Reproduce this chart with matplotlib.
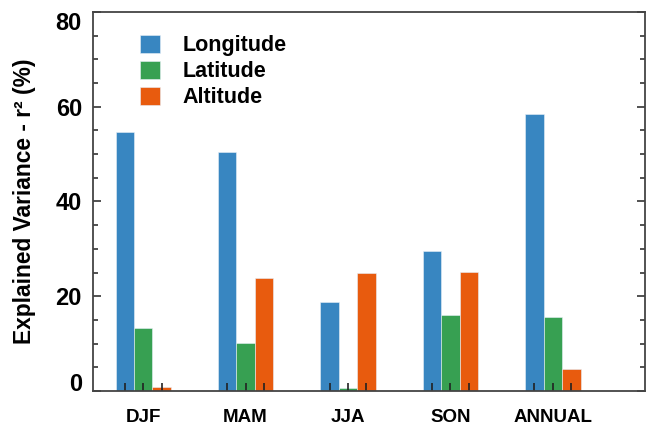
import matplotlib
matplotlib.use("Agg")
import matplotlib.pyplot as plt
import numpy as np
from matplotlib.ticker import MultipleLocator

plt.rcParams['font.family'] = ['Liberation Sans', 'DejaVu Sans']
plt.rcParams['font.weight'] = 'bold'

categories = ["DJF", "MAM", "JJA", "SON", "ANNUAL"]
series_names = ["Longitude", "Latitude", "Altitude"]
longitude = [54.6, 50.4, 18.8, 29.5, 58.5]
latitude = [13.2, 10.2, 0.7, 16.1, 15.6]
altitude = [0.8, 23.9, 24.8, 25.2, 4.7]
yticks = [0, 20, 40, 60, 80]
colors = ["#3886C1", "#37A052", "#E85B0E"]

fig = plt.figure(figsize=(6.46, 4.25), dpi=100)
ax = fig.add_axes([0.144, 0.08, 0.8545, 0.892])

x = np.arange(len(categories))
w = 0.18
bar_centers = []
for i, (vals, name, c) in enumerate(zip([longitude, latitude, altitude], series_names, colors)):
    pos = x + (i - 1) * w
    bar_centers.extend(pos)
    ax.bar(pos, vals, width=w, color=c, edgecolor='#E8F0F8', linewidth=0.4, label=name)

ax.set_xlim(-0.49, 4.9)
ax.set_ylim(0, 80)

ax.set_yticks(yticks)
ax.yaxis.set_minor_locator(MultipleLocator(5))
ax.tick_params(axis='y', which='both', direction='in', left=True, right=True, width=1.2, color='#333333')
ax.tick_params(axis='y', which='major', length=6, labelsize=17, pad=8)
ax.tick_params(axis='y', which='minor', length=3.5)

ax.xaxis.remove_overlapping_locs = False
ax.set_xticks(x)
ax.set_xticklabels(categories)
ax.set_xticks(sorted(bar_centers), minor=True)
ax.tick_params(axis='x', which='major', length=0, labelsize=13.5, pad=13)
ax.tick_params(axis='x', which='minor', direction='in', length=5.5, width=1.2, color='#222222', top=False)

for s in ax.spines.values():
    s.set_linewidth(1.3)
    s.set_color('#444444')

ax.set_ylabel("Explained Variance - r² (%)", fontsize=16.4, fontweight='bold', labelpad=14)

leg = ax.legend(loc='upper left', bbox_to_anchor=(0.069, 0.962), frameon=False, fontsize=15.5,
                handlelength=0.93, handleheight=0.93, handletextpad=1.05, labelspacing=0.2,
                borderaxespad=0)
for h in leg.legend_handles:
    h.set_edgecolor('#E8F0F8')

fig.canvas.draw()
ticks = ax.yaxis.get_major_ticks()
ticks[0].label1.set_va('baseline')
ticks[-1].label1.set_va('top')

fig.savefig("out.png", dpi=100)
